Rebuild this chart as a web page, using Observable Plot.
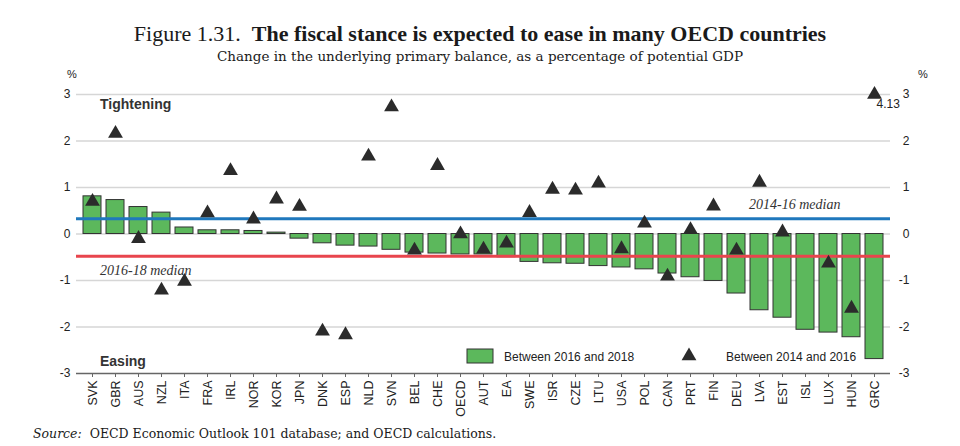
<!DOCTYPE html>
<html><head><meta charset="utf-8">
<script src="https://cdn.jsdelivr.net/npm/d3@7"></script>
<script src="https://cdn.jsdelivr.net/npm/@observablehq/plot@0.6"></script>
<style>
body{margin:0;background:#fff;width:960px;height:446px;overflow:hidden;font-family:"Liberation Sans",Arial,sans-serif;color:#222}
#head{height:66px;text-align:center;color:#1a1a1a}
#title{padding-top:22px;font-family:"Liberation Serif",serif;font-size:22px;line-height:24px;white-space:nowrap}
#sub{font-family:"DejaVu Serif",serif;font-size:13.5px;line-height:20px;white-space:nowrap}
#chart svg{display:block}
#src{font-family:"DejaVu Serif",serif;font-size:12.5px;margin-left:33px;margin-top:2px;white-space:nowrap;color:#1a1a1a}
</style></head>
<body>
<div id="head">
  <div id="title">Figure 1.31.&nbsp; <b>The fiscal stance is expected to ease in many OECD countries</b></div>
  <div id="sub">Change in the underlying primary balance, as a percentage of potential GDP</div>
</div>
<div id="chart"></div>
<div id="src"><i>Source:</i>&nbsp; OECD Economic Outlook 101 database; and OECD calculations.</div>
<script>
const countries = ["SVK","GBR","AUS","NZL","ITA","FRA","IRL","NOR","KOR","JPN","DNK","ESP","NLD","SVN","BEL","CHE","OECD","AUT","EA","SWE","ISR","CZE","LTU","USA","POL","CAN","PRT","FIN","DEU","LVA","EST","ISL","LUX","HUN","GRC"];
const change2016to2018 = [0.81,0.73,0.58,0.46,0.14,0.08,0.08,0.065,0.03,-0.1,-0.2,-0.25,-0.27,-0.34,-0.4,-0.42,-0.44,-0.44,-0.5,-0.6,-0.63,-0.64,-0.69,-0.72,-0.76,-0.85,-0.93,-1.01,-1.28,-1.64,-1.8,-2.06,-2.12,-2.22,-2.69];
const change2014to2016 = [0.7,2.16,-0.1,-1.21,-1.02,0.45,1.36,0.32,0.75,0.59,-2.09,-2.17,1.67,2.73,-0.35,1.47,0.0,-0.33,-0.2,0.46,0.96,0.94,1.09,-0.32,0.23,-0.91,0.09,0.6,-0.35,1.11,0.04,null,-0.63,-1.6,4.13];
const median2014to2016 = 0.33;
const median2016to2018 = -0.48;
const yTicks = [-3,-2,-1,0,1,2,3];
const yMax = 3;

const data = countries.map((c,i)=>({country:c, bar:change2016to2018[i], tri:change2014to2016[i]}));
const tris = data.filter(d=>d.tri!=null);

const W=960, H=358, mL=76, mR=70, mT=28, mB=51;
const plot = Plot.plot({
  width:W, height:H, marginLeft:mL, marginRight:mR, marginTop:mT, marginBottom:mB,
  style:{fontFamily:'"Liberation Sans",Arial,sans-serif', fontSize:"12px", color:"#222", background:"#fff"},
  x:{domain:countries, paddingInner:0.2, paddingOuter:0.15, label:null},
  y:{domain:[-3,3], ticks:yTicks, label:null},
  marks:[
    Plot.ruleY(yTicks.filter(t=>t>-3), {stroke:"#d6d6d6", strokeWidth:1.5}),
    Plot.barY(data, {x:"country", y:"bar", fill:"#5cb85c", stroke:"#333", strokeWidth:1}),
    Plot.ruleY([-3], {stroke:"#666", strokeWidth:1.5}),
    Plot.ruleY([median2014to2016], {stroke:"#1f78bd", strokeWidth:3}),
    Plot.ruleY([median2016to2018], {stroke:"#e8454d", strokeWidth:3}),
    Plot.dot(tris, {x:"country", y:d=>Math.min(d.tri,yMax), symbol:"triangle", r:5.5, fill:"#2b2b2b", stroke:null}),
    Plot.text(tris.filter(d=>d.tri>yMax), {x:"country", y:yMax, text:d=>d.tri.toFixed(2), textAnchor:"start", dx:2, dy:10, fontSize:12, fill:"#222"}),
    Plot.axisY({anchor:"left", ticks:yTicks, tickSize:0, tickPadding:6, tickFormat:d=>String(d), fontSize:12}),
    Plot.axisY({anchor:"right", ticks:yTicks, tickSize:0, tickPadding:0, textAnchor:"end", dx:19, tickFormat:d=>String(d), fontSize:12}),
    Plot.axisX({anchor:"bottom", tickRotate:-90, tickSize:4, tickPadding:3, stroke:"#666", fontSize:12.5})
  ]
});
document.getElementById("chart").appendChild(plot);

const svg = d3.select(plot);
const ann = svg.append("g").attr("fill","#222").attr("text-anchor","start");
ann.append("text").attr("x",72).attr("y",12).attr("text-anchor","middle").attr("font-size",11).text("%");
ann.append("text").attr("x",923).attr("y",12).attr("text-anchor","middle").attr("font-size",11).text("%");
ann.append("text").attr("x",100).attr("y",43).attr("font-size",14).attr("font-weight","bold").attr("fill","#333").text("Tightening");
ann.append("text").attr("x",100).attr("y",300).attr("font-size",14).attr("font-weight","bold").attr("fill","#333").text("Easing");
ann.append("text").attr("x",100).attr("y",209).attr("font-size",14).attr("font-style","italic").attr("font-family",'"Liberation Serif",serif').attr("fill","#333").text("2016-18 median");
ann.append("text").attr("x",749).attr("y",143).attr("font-size",14).attr("font-style","italic").attr("font-family",'"Liberation Serif",serif').attr("fill","#333").text("2014-16 median");
// legend
const lg = svg.append("g").attr("text-anchor","start");
lg.append("rect").attr("x",467).attr("y",283).attr("width",26).attr("height",14).attr("fill","#5cb85c").attr("stroke","#333");
lg.append("text").attr("x",504).attr("y",295).attr("font-size",12).attr("fill","#222").text("Between 2016 and 2018");
lg.append("path").attr("transform","translate(689,290)").attr("d",d3.symbol(d3.symbolTriangle, Math.PI*5.5*5.5)()).attr("fill","#2b2b2b");
lg.append("text").attr("x",726).attr("y",295).attr("font-size",12).attr("fill","#222").text("Between 2014 and 2016");
</script>
</body></html>
